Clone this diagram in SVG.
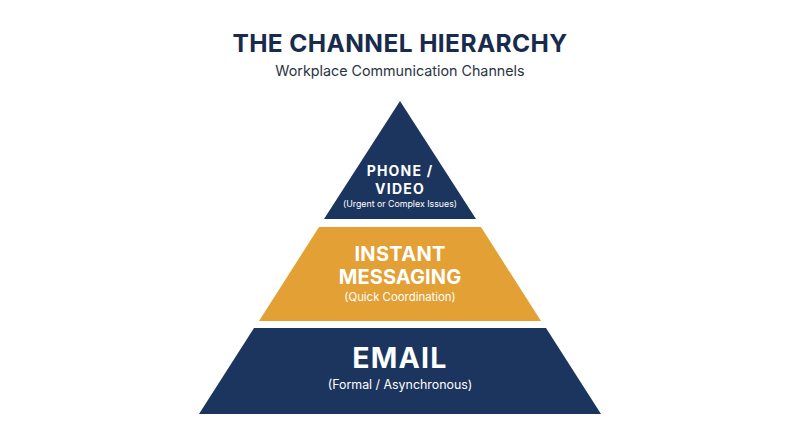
<svg xmlns="http://www.w3.org/2000/svg" width="800" height="447" viewBox="0 0 800 447">
<style>
.navy{fill:#1b355e}
.gold{fill:#e3a035}
.t{font-family:Inter,"Open Sans","Liberation Sans",sans-serif;text-anchor:middle;fill:#ffffff}
.b{font-weight:700}
.s{font-weight:400}
</style>
<rect width="800" height="447" fill="#ffffff"/>
<g id="title">
<text class="t b" x="400" y="52" font-size="24.5" style="fill:#182b4d" letter-spacing="0.4">THE CHANNEL HIERARCHY</text>
<text class="t s" x="400" y="76" font-size="14.3" style="fill:#2a3345">Workplace Communication Channels</text>
</g>
<g id="tier-phone">
<polygon class="navy" points="400,101 476,219 324,219"/>
<text class="t b" x="400" y="176" font-size="14" letter-spacing="1.2">PHONE /</text>
<text class="t b" x="400" y="193.5" font-size="14" letter-spacing="1.2">VIDEO</text>
<text class="t s" x="400" y="207" font-size="8.8">(Urgent or Complex Issues)</text>
</g>
<g id="tier-im">
<polygon class="gold" points="319,227 481,227 541,321 259,321"/>
<text class="t b" x="400" y="261" font-size="20" letter-spacing="0.3">INSTANT</text>
<text class="t b" x="400" y="284" font-size="20" letter-spacing="0.1">MESSAGING</text>
<text class="t s" x="400" y="301" font-size="11.4">(Quick Coordination)</text>
</g>
<g id="tier-email">
<polygon class="navy" points="254,328 546,328 601,414 199,414"/>
<text class="t b" x="400" y="368" font-size="28.5" letter-spacing="1.2">EMAIL</text>
<text class="t s" x="400" y="389" font-size="12.4">(Formal / Asynchronous)</text>
</g>
<g id="connectors"/>
</svg>
